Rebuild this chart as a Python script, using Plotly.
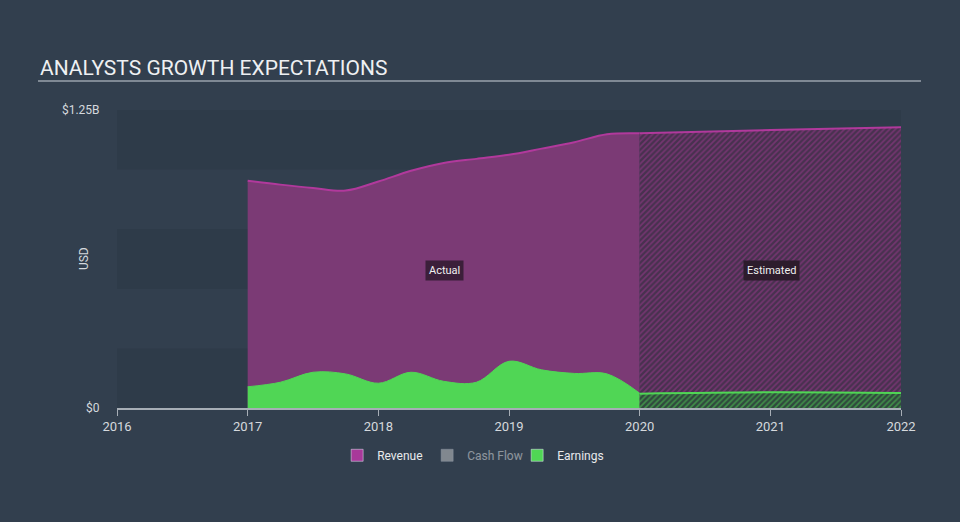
import plotly.graph_objects as go

# ---- data ----
actual_x = [2017.0, 2017.25, 2017.5, 2017.75, 2018.0, 2018.25, 2018.5, 2018.75,
            2019.0, 2019.25, 2019.5, 2019.75, 2020.0]
revenue_actual = [0.953, 0.937, 0.923, 0.912, 0.950, 0.995, 1.028, 1.045,
                  1.062, 1.088, 1.115, 1.148, 1.152]
earnings_actual = [0.089, 0.108, 0.150, 0.143, 0.104, 0.150, 0.112, 0.108,
                   0.196, 0.160, 0.145, 0.143, 0.062]
est_x = [2020.0, 2021.0, 2022.0]
revenue_est = [1.152, 1.166, 1.178]
earnings_est = [0.060, 0.066, 0.063]
x_ticks = [2016, 2017, 2018, 2019, 2020, 2021, 2022]
y_tickvals = [0, 1.25]
y_ticktext = ["$0", "$1.25B"]

BG = "#323f4e"
BAND = "#2e3b49"
REV_FILL = "#7b3a75"
REV_LINE = "#b1399c"
EARN = "#50d655"

fig = go.Figure()

fig.add_trace(go.Scatter(x=actual_x, y=revenue_actual, mode="lines",
                         line=dict(color=REV_LINE, width=2, shape="spline", smoothing=1.0),
                         fill="tozeroy", fillcolor=REV_FILL, showlegend=False,
                         hoverinfo="skip"))
fig.add_trace(go.Scatter(x=est_x, y=revenue_est, mode="lines",
                         line=dict(color=REV_LINE, width=2, shape="spline"),
                         fill="tozeroy",
                         fillpattern=dict(shape="/", fgcolor="#a03a92", bgcolor="#48314f",
                                          size=4, solidity=0.4),
                         showlegend=False, hoverinfo="skip"))
fig.add_trace(go.Scatter(x=actual_x, y=earnings_actual, mode="lines",
                         line=dict(color=EARN, width=1, shape="spline", smoothing=1.0),
                         fill="tozeroy", fillcolor=EARN, showlegend=False,
                         hoverinfo="skip"))
fig.add_trace(go.Scatter(x=est_x, y=earnings_est, mode="lines",
                         line=dict(color=EARN, width=2, shape="spline"),
                         fill="tozeroy",
                         fillpattern=dict(shape="/", fgcolor=EARN, bgcolor="#30493d",
                                          size=4, solidity=0.4),
                         showlegend=False, hoverinfo="skip"))

fig.add_trace(go.Bar(x=[None], y=[None], name="Revenue", marker_color="#a8399a"))
fig.add_trace(go.Bar(x=[None], y=[None], name="Cash Flow", marker_color="#d0d0d0",
                     visible="legendonly"))
fig.add_trace(go.Bar(x=[None], y=[None], name="Earnings", marker_color=EARN))

shapes = []
band_edges = [0, 0.25, 0.5, 0.75, 1.0, 1.25]
for i in range(0, 5, 2):
    shapes.append(dict(type="rect", xref="x", yref="y", x0=2016, x1=2022,
                       y0=band_edges[i], y1=band_edges[i + 1],
                       fillcolor=BAND, line=dict(width=0), layer="below"))
shapes.append(dict(type="line", xref="paper", yref="paper",
                   x0=-0.1008, x1=1.0255, y0=1.0973, y1=1.0973,
                   line=dict(color="#9aa3ad", width=1.5)))

annotations = [
    dict(text="ANALYSTS GROWTH EXPECTATIONS", xref="paper", yref="paper",
         x=-0.1008, y=1.141, xanchor="left", yanchor="middle", showarrow=False,
         font=dict(size=21, color="#eef0f2", family="Roboto")),
    dict(text="USD", xref="paper", yref="paper", x=-0.042, y=0.5, textangle=-90,
         xanchor="center", yanchor="middle", showarrow=False,
         font=dict(size=12, color="#d5d9dd", family="Roboto")),
    dict(text="Actual", x=2018.51, y=0.575, showarrow=False,
         bgcolor="#3b1f3a", font=dict(size=11, color="#f0f0f0", family="Roboto"),
         borderpad=3),
    dict(text="Estimated", x=2021.01, y=0.575, showarrow=False,
         bgcolor="#2d1c2c", font=dict(size=11, color="#f0f0f0", family="Roboto"),
         borderpad=3),
]

fig.update_layout(
    width=960, height=522,
    margin=dict(l=117, r=59, t=110, b=114),
    paper_bgcolor=BG, plot_bgcolor=BG,
    font=dict(family="Roboto", color="#d5d9dd", size=12),
    shapes=shapes, annotations=annotations,
    showlegend=True,
    legend=dict(orientation="h", x=0.453, xanchor="center", y=-0.11, yanchor="top",
                font=dict(size=12, color="#e8eaec"), itemwidth=30,
                entrywidth=45, entrywidthmode="pixels",
                bgcolor="rgba(0,0,0,0)"),
    xaxis=dict(range=[2016, 2022], tickvals=x_ticks, ticktext=[str(t) for t in x_ticks],
               showgrid=False, zeroline=False, showline=True, linecolor="#a7aeb6",
               linewidth=1.5, ticks="outside", ticklen=6, tickcolor="#a7aeb6",
               tickfont=dict(size=13, color="#d5d9dd"), fixedrange=True),
    yaxis=dict(range=[0, 1.25], tickvals=y_tickvals, ticktext=y_ticktext,
               showgrid=False, zeroline=False, showline=False,
               ticks="outside", ticklen=14, tickcolor="rgba(0,0,0,0)",
               tickfont=dict(size=12, color="#d5d9dd"),
               fixedrange=True),
)

fig.write_html("out.html")
